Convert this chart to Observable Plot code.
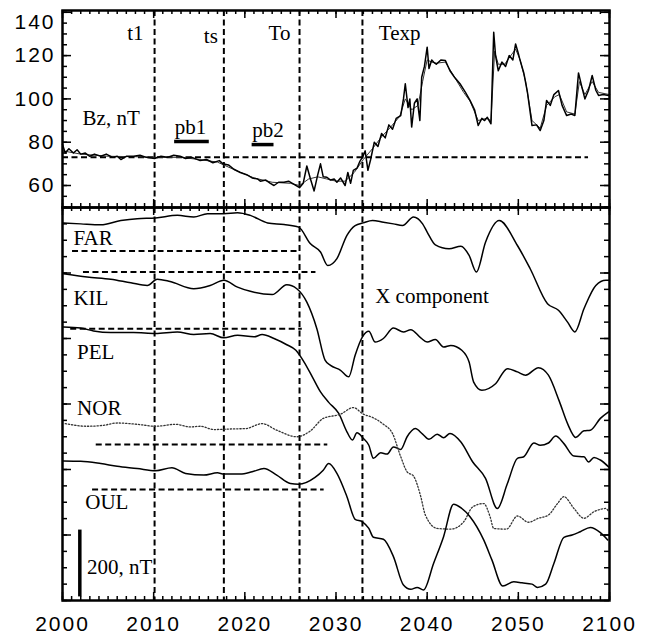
<!DOCTYPE html>
<html><head><meta charset="utf-8">
<script src="https://cdn.jsdelivr.net/npm/d3@7"></script>
<script src="https://cdn.jsdelivr.net/npm/@observablehq/plot@0.6"></script>
<style>
html,body{margin:0;padding:0;background:#fff;}
#chart{width:649px;}
#chart svg{display:block;overflow:visible;}
[aria-label="x-axis tick label"] text,[aria-label="y-axis tick label"] text{letter-spacing:2px;}
</style></head><body><div id="chart"></div>
<script>
// ---------- axis ticks / labels ----------
const yearTicks = [2000, 2010, 2020, 2030, 2040, 2050, 2060];
const yearLabels = ["2000", "2010", "2020", "2030", "2040", "2050", "2100"];
const bzTicks = [60, 80, 100, 120];
const bzTopTick = [140];

// ---------- event times ----------
const eventNames = ["t1", "ts", "To", "Texp"];
const eventYears = [2010.1, 2017.7, 2026.0, 2032.9];
const eventLabelYears = [2007.1, 2015.5, 2022.6, 2034.7];
const eventLabelBz = [130.2, 128.8, 130.2, 130.2];

// ---------- Bz (nT) ----------
const bzRaw = [[2000.0,79],[2000.3,75],[2000.7,77],[2001.2,75],[2001.6,76.5],[2002.0,74.5],[2002.5,75],[2003.0,73.5],[2003.5,74.5],[2004.2,73.5],[2004.8,74.5],[2005.5,73],[2006.0,73.5],[2006.4,72],[2007.0,73.5],[2007.8,73.5],[2008.5,74],[2009.2,73],[2010.1,72.5],[2010.8,73.5],[2011.5,73],[2012.2,74],[2012.9,73.5],[2013.5,72.5],[2014.2,73],[2015.1,71.5],[2015.8,72],[2016.5,70.5],[2017.2,71.5],[2017.6,70],[2018.2,69.5],[2018.8,67.5],[2019.5,66],[2020.2,65],[2020.8,63.5],[2021.4,63],[2021.7,62],[2022.3,62.5],[2022.8,61],[2023.2,60],[2023.7,61.5],[2024.3,61.5],[2024.8,62],[2025.4,60.5],[2026.0,59],[2026.4,61],[2026.8,69],[2027.2,63],[2027.6,57.5],[2028.0,65],[2028.3,70],[2028.6,64],[2029.0,63.8],[2029.4,62.5],[2029.8,63],[2030.1,61.5],[2030.5,63.5],[2031.0,60],[2031.3,66],[2031.6,61],[2031.9,67],[2032.3,68],[2032.6,71],[2032.9,73],[2033.2,76],[2033.5,67],[2033.8,72],[2034.2,80],[2034.6,78],[2035.0,84],[2035.4,82],[2035.8,88],[2036.2,86],[2036.6,91],[2037.1,92.3],[2037.4,100],[2037.6,107],[2037.9,96],[2038.1,100],[2038.3,87],[2038.6,98],[2038.9,100],[2039.2,90],[2039.4,110],[2039.7,115],[2040.0,123.9],[2040.2,114],[2040.5,118],[2040.7,117],[2041.0,116],[2041.5,118],[2042.0,117.7],[2042.5,113],[2043.0,110],[2043.6,107],[2044.2,103],[2044.7,99.3],[2045.2,95],[2045.6,87.7],[2046.0,91],[2046.3,90],[2046.6,91.5],[2047.0,88.5],[2047.3,130.8],[2047.5,120],[2047.8,113],[2048.2,117],[2048.6,115],[2049.0,120],[2049.4,118],[2049.7,125.4],[2050.0,121],[2050.2,117.7],[2050.6,112],[2051.0,103],[2051.5,87.7],[2052.0,88],[2052.4,85.4],[2052.8,90],[2053.1,99.3],[2053.5,97],[2053.9,102],[2054.4,103.9],[2054.8,97],[2055.3,92.3],[2055.8,93],[2056.2,92.3],[2056.6,112],[2057.0,105],[2057.3,100],[2057.7,104],[2058.1,110.8],[2058.5,104],[2058.8,101.6],[2059.3,102],[2059.9,101.6],[2060,102]];
const bzSmooth = [[2000,76],[2002,74.5],[2005,73.5],[2008,73.3],[2010,73],[2013,73],[2015,72],[2017,70.8],[2019,67],[2021,63.5],[2023,61.5],[2025,61],[2026,60],[2027,63],[2028,64],[2029,63],[2030,62],[2031,62],[2032,66],[2033,72],[2034,77],[2035,82.5],[2036,87],[2037,92],[2037.6,100],[2038.3,95],[2039,97],[2039.5,108],[2040,118],[2040.5,117],[2041,116.5],[2042,117],[2043,110],[2044,103],[2044.7,99],[2045.6,90],[2046.5,91],[2047,90],[2047.4,122],[2047.8,116],[2048.5,116],[2049,119],[2049.7,123],[2050.2,118],[2050.8,108],[2051.5,90],[2052.4,86.5],[2053.1,97],[2054,101],[2054.5,102],[2055.3,94],[2056.2,93],[2056.7,108],[2057.3,102],[2058.1,108],[2058.8,103],[2060,102]];
const bzRef = [{y: 73.1, x1: 2000, x2: 2057.7}];
const pbBars = [{name: "pb1", x1: 2012.3, x2: 2016.1, y: 80.3, ly: 86.8}, {name: "pb2", x1: 2020.8, x2: 2023.2, y: 78.9, ly: 85.4}];
const bzLabel = [{text: "Bz, nT", x: 2002.2, y: 91}];

// ---------- X component (stacked, nT) ----------
const FAR = [[2000.1,1153],[2002.0,1150],[2004.2,1147],[2006.4,1160],[2008.2,1166],[2010.2,1168],[2012.6,1176],[2014.4,1171],[2015.9,1181],[2017.7,1181],[2019.2,1184],[2020.6,1176],[2022.5,1153],[2024.3,1148],[2025.9,1140],[2027.2,1089],[2028.3,1064],[2029.1,1023],[2030.1,1044],[2031.2,1115],[2032.1,1145],[2033.0,1153],[2034.0,1160],[2035.2,1155],[2036.3,1150],[2037.3,1145],[2038.5,1171],[2039.5,1150],[2040.0,1125],[2040.9,1086],[2042.4,1074],[2043.7,1082],[2044.6,1054],[2045.4,1003],[2046.4,1094],[2047.9,1160],[2049.9,1084],[2051.3,1013],[2053.2,906],[2054.4,886],[2055.4,850],[2056.2,820],[2057.2,891],[2058.5,962],[2059.6,978],[2060,978]];
const KIL = [[2000.1,998],[2002.7,988],[2005.3,981],[2007.5,970],[2009.3,962],[2010.4,981],[2011.8,974],[2014.4,952],[2016.2,962],[2017.7,978],[2019.2,957],[2020.6,944],[2023.0,934],[2024.6,964],[2025.7,952],[2026.8,911],[2027.9,830],[2028.8,734],[2029.4,718],[2030.5,703],[2031.4,683],[2032.1,749],[2032.9,805],[2033.6,822],[2034.3,789],[2035.2,800],[2036.3,832],[2037.4,820],[2038.2,827],[2039.3,802],[2040.0,789],[2040.9,797],[2041.8,774],[2042.6,779],[2043.8,764],[2044.6,728],[2045.1,667],[2046.0,642],[2047.5,662],[2048.8,708],[2049.9,698],[2050.8,688],[2052.2,711],[2053.3,688],[2054.5,608],[2055.4,540],[2056.3,498],[2057.2,518],[2057.9,520],[2059.0,556],[2059.9,576]];
const PEL = [[2000.1,835],[2002.0,832],[2003.4,823],[2005.3,818],[2007.8,818],[2010.2,815],[2012.6,820],[2014.4,812],[2016.2,815],[2017.7,802],[2019.2,810],[2021.0,805],[2021.9,812],[2023.2,800],[2024.6,781],[2025.6,764],[2026.5,728],[2027.4,683],[2028.3,637],[2029.2,605],[2030.3,571],[2031.2,515],[2031.8,490],[2032.3,512],[2033.0,495],[2033.6,474],[2034.1,434],[2034.9,451],[2035.6,447],[2036.3,469],[2037.1,461],[2037.8,500],[2038.7,525],[2039.5,508],[2040.2,492],[2041.1,508],[2041.8,497],[2042.5,510],[2043.7,484],[2045.0,423],[2046.4,373],[2047.7,281],[2048.8,357],[2049.9,434],[2050.6,439],[2051.7,481],[2052.4,474],[2053.3,481],[2054.1,502],[2055.0,479],[2056.1,441],[2057.2,439],[2057.7,423],[2058.3,437],[2059.0,429],[2059.9,408]];
const NOR = [[2000.3,540],[2002.7,532],[2004.5,535],[2006.0,542],[2008.2,538],[2010.2,532],[2012.4,538],[2014.0,530],[2015.1,532],[2016.6,522],[2018.8,524],[2020.1,525],[2021.9,540],[2023.5,520],[2025.7,500],[2027.2,518],[2028.6,556],[2030.5,569],[2031.9,589],[2033.0,569],[2034.0,559],[2035.2,538],[2036.2,510],[2037.1,439],[2037.8,393],[2038.5,380],[2039.3,317],[2039.8,261],[2041.1,220],[2042.6,218],[2044.0,240],[2045.0,286],[2046.2,296],[2046.9,256],[2047.3,220],[2048.7,218],[2049.9,258],[2051.1,239],[2052.2,251],[2053.3,261],[2054.3,296],[2055.0,317],[2056.1,281],[2057.2,251],[2058.3,271],[2059.6,281],[2059.9,271]];
const OUL = [[2000.1,426],[2002.0,425],[2004.2,418],[2006.0,410],[2008.2,403],[2010.2,396],[2012.0,405],[2013.5,388],[2015.5,383],[2017.0,390],[2017.7,386],[2019.5,386],[2020.8,393],[2022.1,403],[2023.5,383],[2025.0,357],[2025.9,355],[2027.7,376],[2028.6,398],[2029.2,418],[2030.1,388],[2031.2,317],[2032.1,248],[2032.9,240],[2033.6,220],[2034.1,193],[2035.2,187],[2036.3,134],[2037.4,47],[2038.2,34],[2038.9,40],[2039.6,32],[2040.7,113],[2041.8,195],[2042.9,294],[2043.8,281],[2044.7,256],[2046.2,185],[2047.1,124],[2048.3,44],[2049.5,57],[2050.4,54],[2051.5,50],[2052.1,40],[2053.0,50],[2053.9,113],[2055.0,193],[2055.9,200],[2056.8,210],[2057.9,223],[2059.0,207],[2059.8,185]];
const stationNames = ["FAR", "KIL", "PEL", "NOR", "OUL"];
const stationLabelYears = [2001.2, 2001.2, 2001.6, 2001.6, 2002.5];
const stationLabelValues = [1106, 923, 758, 587, 300];
const baselines = [{y: 1067, x1: 2001.1, x2: 2026.0}, {y: 1003, x1: 2002.3, x2: 2027.8}, {y: 830, x1: 2000.9, x2: 2026.3}, {y: 476, x1: 2003.7, x2: 2029.1}, {y: 339, x1: 2003.3, x2: 2028.7}];
const scaleBar = [{x: 2001.9, y1: 11, y2: 215}];
const lowerLabels = [{text: "X component", x: 2034.3, y: 929}, {text: "200, nT", x: 2002.7, y: 102}];

// ---------- layout ----------
const W = 649, ML = 62, MR = 40;
const IW = W - ML - MR;
const TOP_H = 207, TOP_MT = 10, TOP_IH = TOP_H - TOP_MT;
const LOW_H = 430, LOW_MB = 37, LOW_IH = LOW_H - LOW_MB;
const serif = "Liberation Serif";
const sans = "Liberation Sans";
const dash = "6,3.5";

function frameTicks(xMinor, xMajor, yMinor, yMajor, ih) {
  const out = [];
  for (const [vals, len] of [[xMinor, 4], [xMajor, 8]]) {
    out.push(Plot.tickX(vals, {x: d => d, insetBottom: ih - len, strokeWidth: 1.5}));
    out.push(Plot.tickX(vals, {x: d => d, insetTop: ih - len, strokeWidth: 1.5}));
  }
  for (const [vals, len] of [[yMinor, 5], [yMajor, 9]]) {
    out.push(Plot.tickY(vals, {y: d => d, insetRight: IW - len, strokeWidth: 1.5}));
    out.push(Plot.tickY(vals, {y: d => d, insetLeft: IW - len, strokeWidth: 1.5}));
  }
  return out;
}

const xMinor = d3.range(2000, 2061, 1);
const xMajor = yearTicks;

const topPlot = Plot.plot({
  width: W, height: TOP_H, marginTop: TOP_MT, marginBottom: 0, marginLeft: ML, marginRight: MR,
  x: {domain: [2000, 2060], axis: null},
  y: {domain: [49.84, 140.83], axis: null},
  style: {background: "white", color: "black", overflow: "visible"},
  marks: [
    Plot.ruleX(eventYears, {strokeWidth: 2, strokeDasharray: dash}),
    Plot.ruleY(bzRef, {y: "y", x1: "x1", x2: "x2", strokeWidth: 2, strokeDasharray: dash}),
    Plot.line(bzSmooth, {x: d => d[0], y: d => d[1], stroke: "#333", strokeWidth: 1}),
    Plot.line(bzRaw, {x: d => d[0], y: d => d[1], stroke: "black", strokeWidth: 1.5}),
    Plot.ruleY(pbBars, {y: "y", x1: "x1", x2: "x2", strokeWidth: 3.5}),
    Plot.text(pbBars, {x: "x1", y: "ly", text: "name", textAnchor: "start", fontFamily: serif, fontSize: 21}),
    Plot.text(bzLabel, {x: "x", y: "y", text: "text", textAnchor: "start", fontFamily: serif, fontSize: 21}),
    Plot.text(eventNames, {x: (d, i) => eventLabelYears[i], y: (d, i) => eventLabelBz[i], text: d => d, textAnchor: "start", fontFamily: serif, fontSize: 21}),
    ...frameTicks(xMinor, xMajor, d3.range(50, 141, 5), [60, 80, 100, 120, 140], TOP_IH),
    Plot.axisY(bzTicks, {anchor: "left", tickSize: 0, tickPadding: 7, fontSize: 21, fontFamily: sans, tickFormat: d => String(d)}),
    Plot.axisY(bzTopTick, {anchor: "left", tickSize: 0, tickPadding: 7, dy: 10, fontSize: 21, fontFamily: sans, tickFormat: d => String(d)}),
    Plot.frame({strokeWidth: 2.5})
  ]
});

const series = [FAR, KIL, PEL, NOR, OUL];
const lowPlot = Plot.plot({
  width: W, height: LOW_H, marginTop: 0, marginBottom: LOW_MB, marginLeft: ML, marginRight: MR,
  x: {domain: [2000, 2060], axis: null},
  y: {domain: [0, 1200], axis: null},
  style: {background: "white", color: "black", overflow: "visible"},
  marks: [
    Plot.ruleX(eventYears, {strokeWidth: 2, strokeDasharray: dash}),
    Plot.ruleY(baselines, {y: "y", x1: "x1", x2: "x2", strokeWidth: 2, strokeDasharray: dash}),
    ...series.map((s, i) => Plot.line(s, {
      x: d => d[0], y: d => d[1], curve: "monotone-x",
      stroke: stationNames[i] === "NOR" ? "#333" : "black",
      strokeWidth: stationNames[i] === "NOR" ? 1.3 : 1.5,
      strokeDasharray: stationNames[i] === "NOR" ? "1.3,1.9" : null
    })),
    Plot.text(stationNames, {x: (d, i) => stationLabelYears[i], y: (d, i) => stationLabelValues[i], text: d => d, textAnchor: "start", fontFamily: serif, fontSize: 21}),
    Plot.text(lowerLabels, {x: "x", y: "y", text: "text", textAnchor: "start", fontFamily: serif, fontSize: 21}),
    Plot.ruleX(scaleBar, {x: "x", y1: "y1", y2: "y2", strokeWidth: 3.5}),
    ...frameTicks(xMinor, xMajor, d3.range(0, 1201, 50), d3.range(0, 1201, 200), LOW_IH),
    Plot.axisX(yearTicks, {anchor: "bottom", tickSize: 0, tickPadding: 16, fontSize: 21, fontFamily: sans, tickFormat: d => yearLabels[yearTicks.indexOf(d)]}),
    Plot.frame({strokeWidth: 2.5})
  ]
});

const chart = document.getElementById("chart");
chart.append(topPlot, lowPlot);
</script></body></html>
